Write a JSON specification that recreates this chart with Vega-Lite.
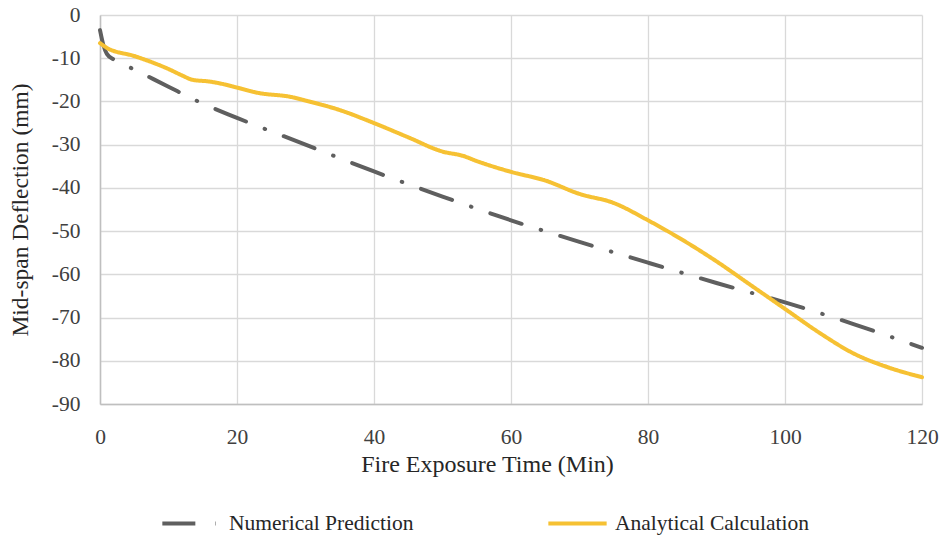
{
  "$schema": "https://vega.github.io/schema/vega-lite/v6.json",
  "autosize": {"type": "none"},
  "padding": {"left": 100, "top": 15, "right": 21, "bottom": 134},
  "width": 822,
  "height": 389,
  "background": "white",
  "config": {
    "font": "Liberation Serif",
    "view": {"stroke": null},
    "axis": {"labelFont": "Liberation Serif", "titleFont": "Liberation Serif", "labelColor": "#404040", "titleColor": "#262626", "titleFontWeight": "normal", "gridColor": "#d9d9d9", "gridWidth": 1.3, "domainColor": "#bfbfbf", "domainWidth": 1.5, "ticks": false, "labelFlush": false, "labelOverlap": false}
  },
  "data": {
    "values": [
      {"t": 0, "d": -3.5, "s": "Numerical Prediction"},
      {"t": 0.5, "d": -7, "s": "Numerical Prediction"},
      {"t": 1, "d": -9, "s": "Numerical Prediction"},
      {"t": 2, "d": -10.3, "s": "Numerical Prediction"},
      {"t": 5, "d": -12.6, "s": "Numerical Prediction"},
      {"t": 10, "d": -16.6, "s": "Numerical Prediction"},
      {"t": 15, "d": -20.5, "s": "Numerical Prediction"},
      {"t": 20, "d": -23.8, "s": "Numerical Prediction"},
      {"t": 30, "d": -30, "s": "Numerical Prediction"},
      {"t": 40, "d": -36.2, "s": "Numerical Prediction"},
      {"t": 50, "d": -42, "s": "Numerical Prediction"},
      {"t": 60, "d": -47.5, "s": "Numerical Prediction"},
      {"t": 70, "d": -52.5, "s": "Numerical Prediction"},
      {"t": 80, "d": -57.3, "s": "Numerical Prediction"},
      {"t": 90, "d": -62, "s": "Numerical Prediction"},
      {"t": 100, "d": -66.5, "s": "Numerical Prediction"},
      {"t": 110, "d": -71.5, "s": "Numerical Prediction"},
      {"t": 120, "d": -77, "s": "Numerical Prediction"},
      {"t": 0, "d": -6.5, "s": "Analytical Calculation"},
      {"t": 1, "d": -7.6, "s": "Analytical Calculation"},
      {"t": 5, "d": -9.5, "s": "Analytical Calculation"},
      {"t": 10, "d": -12.5, "s": "Analytical Calculation"},
      {"t": 12, "d": -14, "s": "Analytical Calculation"},
      {"t": 13.5, "d": -15, "s": "Analytical Calculation"},
      {"t": 16, "d": -15.4, "s": "Analytical Calculation"},
      {"t": 18, "d": -16, "s": "Analytical Calculation"},
      {"t": 20, "d": -16.8, "s": "Analytical Calculation"},
      {"t": 23, "d": -18, "s": "Analytical Calculation"},
      {"t": 28, "d": -19, "s": "Analytical Calculation"},
      {"t": 30, "d": -19.8, "s": "Analytical Calculation"},
      {"t": 35, "d": -22, "s": "Analytical Calculation"},
      {"t": 40, "d": -25, "s": "Analytical Calculation"},
      {"t": 45, "d": -28.3, "s": "Analytical Calculation"},
      {"t": 50, "d": -31.6, "s": "Analytical Calculation"},
      {"t": 53, "d": -32.6, "s": "Analytical Calculation"},
      {"t": 55, "d": -33.8, "s": "Analytical Calculation"},
      {"t": 60, "d": -36.3, "s": "Analytical Calculation"},
      {"t": 65, "d": -38.3, "s": "Analytical Calculation"},
      {"t": 70, "d": -41.4, "s": "Analytical Calculation"},
      {"t": 75, "d": -43.5, "s": "Analytical Calculation"},
      {"t": 80, "d": -47.5, "s": "Analytical Calculation"},
      {"t": 85, "d": -52, "s": "Analytical Calculation"},
      {"t": 90, "d": -57, "s": "Analytical Calculation"},
      {"t": 95, "d": -62.5, "s": "Analytical Calculation"},
      {"t": 100, "d": -68, "s": "Analytical Calculation"},
      {"t": 105, "d": -73.5, "s": "Analytical Calculation"},
      {"t": 110, "d": -78.3, "s": "Analytical Calculation"},
      {"t": 115, "d": -81.5, "s": "Analytical Calculation"},
      {"t": 120, "d": -83.8, "s": "Analytical Calculation"}
    ]
  },
  "mark": {"type": "line", "strokeWidth": 4, "strokeCap": "round", "interpolate": "monotone"},
  "encoding": {
    "x": {"field": "t", "type": "quantitative", "scale": {"domain": [0, 120], "nice": false}, "axis": {"values": [0, 20, 40, 60, 80, 100, 120], "title": "Fire Exposure Time (Min)", "labelFontSize": 21.5, "titleFontSize": 24, "labelPadding": 22, "titlePadding": 5, "titleX": 387, "titleAnchor": "middle", "grid": true}},
    "y": {"field": "d", "type": "quantitative", "scale": {"domain": [-90, 0], "nice": false}, "axis": {"values": [0, -10, -20, -30, -40, -50, -60, -70, -80, -90], "labelExpr": "'' + datum.value", "title": "Mid-span Deflection (mm)", "labelFontSize": 21.5, "titleFontSize": 23.5, "labelPadding": 20, "titlePadding": 19}},
    "color": {"field": "s", "type": "nominal", "sort": ["Numerical Prediction", "Analytical Calculation"], "scale": {"domain": ["Numerical Prediction", "Analytical Calculation"], "range": ["#5f5f5f", "#f6c133"]}, "legend": {"title": null, "orient": "none", "legendX": 60, "legendY": 477, "direction": "horizontal", "columns": 2, "columnPadding": 126, "labelFont": "Liberation Serif", "labelFontSize": 21.5, "labelLimit": 400, "labelColor": "#262626", "symbolType": "stroke", "symbolStrokeWidth": 4, "symbolSize": 3400, "labelOffset": 6}},
    "strokeDash": {"field": "s", "type": "nominal", "sort": ["Numerical Prediction", "Analytical Calculation"], "scale": {"domain": ["Numerical Prediction", "Analytical Calculation"], "range": [[33, 20, 0.5, 20], [1, 0]]}}
  }
}
